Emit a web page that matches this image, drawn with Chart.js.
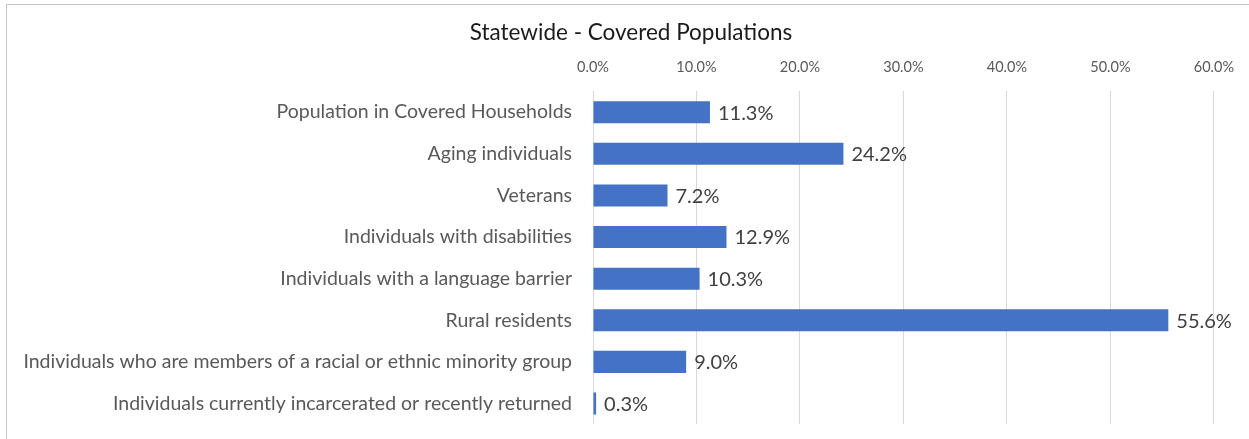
<!DOCTYPE html>
<html>
<head>
<meta charset="utf-8">
<script src="https://cdn.jsdelivr.net/npm/chart.js@4/dist/chart.umd.min.js"></script>
<style>
  html, body { margin: 0; padding: 0; background: #fff; overflow: hidden; }
  #frame { position: absolute; left: 6px; top: 4px; width: 1300px; height: 500px;
           border-top: 1px solid #c4c4c4; border-left: 1px solid #c4c4c4; }
  #wrap { position: absolute; left: 0; top: 0; width: 1249px; height: 439px; }
</style>
</head>
<body>
<div id="frame"></div>
<div id="wrap"><canvas id="chart" width="1249" height="439"></canvas></div>
<script>
const categories = [
    'Population in Covered Households',
    'Aging individuals',
    'Veterans',
    'Individuals with disabilities',
    'Individuals with a language barrier',
    'Rural residents',
    'Individuals who are members of a racial or ethnic minority group',
    'Individuals currently incarcerated or recently returned'
];
const percentValues = [11.3, 24.2, 7.2, 12.9, 10.3, 55.6, 9.0, 0.3];
const axisTicks = [0, 10, 20, 30, 40, 50, 60];
const chartTitle = 'Statewide - Covered Populations';

const FONT = 'Lato, "Open Sans", sans-serif';

// draws the "xx.x%" labels at the end of each bar
const valueLabels = {
    id: 'valueLabels',
    afterDatasetsDraw(chart) {
        const ctx = chart.ctx;
        const meta = chart.getDatasetMeta(0);
        ctx.save();
        ctx.font = '20px ' + FONT;
        ctx.fillStyle = '#404040';
        ctx.textAlign = 'left';
        ctx.textBaseline = 'middle';
        meta.data.forEach((bar, i) => {
            const v = chart.data.datasets[0].data[i];
            ctx.fillText(v.toFixed(1) + '%', bar.x + 8, bar.y + 1);
        });
        ctx.restore();
    }
};

// title centred on the whole frame (the built-in one centres inside the padding)
const frameTitle = {
    id: 'frameTitle',
    afterDraw(chart) {
        const ctx = chart.ctx;
        ctx.save();
        ctx.font = '22.5px ' + FONT;
        ctx.fillStyle = '#1a1a1a';
        ctx.textAlign = 'center';
        ctx.textBaseline = 'middle';
        ctx.fillText(chartTitle, 631, 33);
        ctx.restore();
    }
};

new Chart(document.getElementById('chart'), {
    type: 'bar',
    data: {
        labels: categories,
        datasets: [{
            data: percentValues,
            backgroundColor: '#4472C4',
            borderWidth: 0,
            categoryPercentage: 1,
            barPercentage: 0.53
        }]
    },
    options: {
        indexAxis: 'y',
        responsive: false,
        animation: false,
        layout: {
            padding: { top: 44, right: 35, bottom: 0, left: 0 }
        },
        scales: {
            x: {
                position: 'top',
                min: 0,
                max: 60,
                afterBuildTicks: (scale) => {
                    scale.ticks = axisTicks.map(v => ({ value: v }));
                },
                grid: {
                    color: '#d9d9d9',
                    lineWidth: 1,
                    drawTicks: false
                },
                border: { display: false },
                ticks: {
                    color: '#595959',
                    font: { family: FONT, size: 14.5 },
                    padding: 15,
                    callback: (v) => Number(v).toFixed(1) + '%'
                }
            },
            y: {
                grid: { display: false, drawTicks: true, tickLength: 18 },
                border: { display: false },
                afterFit: (scale) => { scale.width = 593; },
                ticks: {
                    color: '#595959',
                    font: { family: FONT, size: 19.5 },
                    padding: 3
                }
            }
        },
        plugins: {
            legend: { display: false },
            tooltip: { enabled: false },
            title: { display: false }
        }
    },
    plugins: [valueLabels, frameTitle]
});
</script>
</body>
</html>
